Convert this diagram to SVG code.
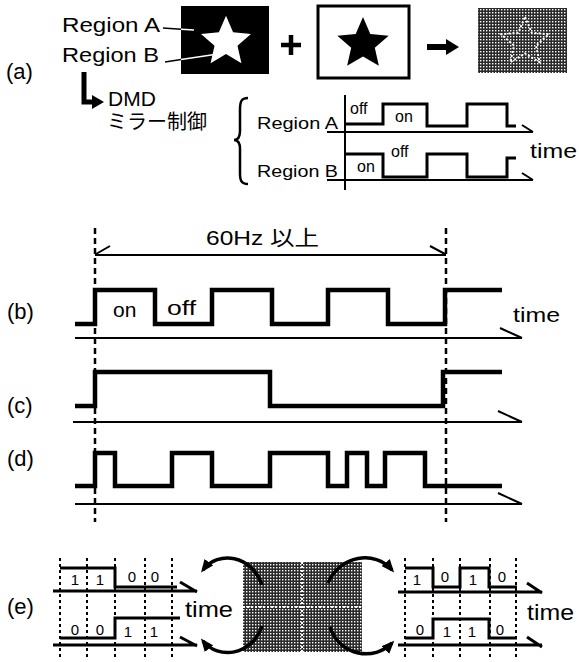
<svg xmlns="http://www.w3.org/2000/svg" width="579" height="662" viewBox="0 0 579 662">
<style>
text{font-family:"Liberation Sans","Noto Sans CJK JP",sans-serif;fill:#000}
.lbl{font-size:22px}
.wave{fill:none;stroke:#000;stroke-width:4.5;stroke-linejoin:miter}
.wv2{fill:none;stroke:#000;stroke-width:3}
.ax{fill:none;stroke:#000;stroke-width:2}
.ax3{fill:none;stroke:#000;stroke-width:3}
.dash{fill:none;stroke:#000;stroke-width:2.5;stroke-dasharray:6 4}
.dot{fill:none;stroke:#000;stroke-width:2;stroke-dasharray:3 3}
.wdot{fill:none;stroke:#fff;stroke-width:2;stroke-dasharray:2 2}
.sm{font-size:16px}
.bit{font-size:15px}
.curve{fill:none;stroke:#000;stroke-width:3.5;marker-end:url(#ah)}
</style>
<defs>
<pattern id="ht" width="3" height="3" patternUnits="userSpaceOnUse">
<rect width="3" height="3" fill="#2a2a2a"/><rect width="1.4" height="1.4" fill="#fff"/>
</pattern>
<path id="star" d="M0,-25 L6.76,-9.3 L23.78,-7.73 L10.94,3.55 L14.69,20.23 L0,11.5 L-14.69,20.23 L-10.94,3.55 L-23.78,-7.73 L-6.76,-9.3 Z"/>
<marker id="ah" viewBox="0 0 12 10" refX="9" refY="5" markerWidth="13" markerHeight="11" markerUnits="userSpaceOnUse" orient="auto"><path d="M0,0 L12,5 L0,10 Z"/></marker>
</defs>
<rect width="579" height="662" fill="#fff"/>

<!-- (a) -->
<g id="label-a"><text class="lbl" x="6" y="79">(a)</text></g>
<g id="regionA-label"><text x="62" y="32" font-size="21" textLength="98" lengthAdjust="spacingAndGlyphs">Region A</text></g>
<g id="regionB-label"><text x="62" y="62" font-size="21" textLength="97" lengthAdjust="spacingAndGlyphs">Region B</text></g>
<g id="black-box">
<rect x="181" y="6" width="88" height="68" fill="#000"/>
<use href="#star" transform="translate(226,42) scale(1.05)" fill="#fff"/>
</g>
<g id="plus"><path d="M281,45 H301 M291,35 V55" stroke="#000" stroke-width="4.5" fill="none"/></g>
<g id="white-box">
<rect x="318" y="6" width="91" height="72" fill="#fff" stroke="#000" stroke-width="3"/>
<use href="#star" transform="translate(363,44) scale(1.08)" fill="#000"/>
</g>
<g id="gray-box-a">
<rect x="478" y="8" width="89" height="65" fill="url(#ht)"/>
<path d="M0,-25 L6.76,-9.3 L23.78,-7.73 L10.94,3.55 L14.69,20.23 L0,11.5 L-14.69,20.23 L-10.94,3.55 L-23.78,-7.73 L-6.76,-9.3 Z" transform="translate(525,42)" class="wdot"/>
</g>
<g id="dmd-label">
<text x="108" y="106" font-size="21">DMD</text>
<text x="107" y="129" font-size="20">ミラー制御</text>
</g>
<g id="brace"><path d="M248,98 C241,98 240,102 240,110 L240,131 C240,137 238,140 234,140 C238,140 240,143 240,149 L240,173 C240,180 241,184 248,184" fill="none" stroke="#000" stroke-width="2.5"/></g>
<g id="timing-a">
<text x="257" y="129" font-size="17" textLength="81" lengthAdjust="spacingAndGlyphs">Region A</text>
<text x="257" y="177" font-size="17" textLength="81" lengthAdjust="spacingAndGlyphs">Region B</text>
<path class="ax" d="M345,95 V190"/>
<path class="ax" d="M327,132 H533 M522,125 L533,132"/>
<path class="ax" d="M327,180 H533 M522,173 L533,180"/>
<path class="wv2" d="M345,124 H383 V104 H427 V126 H467 V104 H507 V126 H516"/>
<path class="wv2" d="M345,154 H383 V177 H427 V154 H467 V177 H507 V158 H516"/>
<text class="sm" x="350" y="114">off</text>
<text class="sm" x="395" y="122">on</text>
<text class="sm" x="357" y="172">on</text>
<text class="sm" x="391" y="157">off</text>
<text x="530" y="158" font-size="21" textLength="47" lengthAdjust="spacingAndGlyphs">time</text>
</g>

<!-- (b)(c)(d) -->
<g id="guides">
<path class="dash" d="M95,228 V522"/>
<path class="dash" d="M446,228 V522"/>
<path class="ax" d="M95,255 H446 M96,254 L110,246 M445,254 L430,246"/>
<text x="206" y="245" font-size="21" textLength="113" lengthAdjust="spacingAndGlyphs">60Hz 以上</text>
</g>
<g id="wave-b">
<text class="lbl" x="7" y="319">(b)</text>
<path class="wave" d="M75,324 H95 V290 H155 V324 H212 V290 H272 V324 H328 V290 H388 V324 H445 V290 H502"/>
<path class="ax" d="M75,338 H522 M500,328 L522,338"/>
<text x="113" y="317" font-size="21">on</text>
<text x="167" y="315" font-size="21" textLength="29" lengthAdjust="spacingAndGlyphs">off</text>
<text x="513" y="322" font-size="21" textLength="47" lengthAdjust="spacingAndGlyphs">time</text>
</g>
<g id="wave-c">
<text class="lbl" x="7" y="413">(c)</text>
<path class="wave" d="M75,406 H95 V372 H270 V406 H443 V372 H502"/>
<path class="ax" d="M73,422 H522 M498,411 L522,422"/>
</g>
<g id="wave-d">
<text class="lbl" x="7" y="466">(d)</text>
<path class="wave" d="M75,486 H95 V453 H115 V486 H172 V453 H212 V486 H270 V453 H328 V486 H347 V453 H367 V486 H385 V453 H425 V486 H502"/>
<path class="ax" d="M75,504 H522 M498,493 L522,504"/>
</g>

<!-- (e) -->
<g id="label-e"><text class="lbl" x="7" y="614">(e)</text></g>
<g id="timing-e-left">
<path class="dot" d="M60,558 V658 M87,558 V658 M115,558 V658 M145,558 V658 M172,558 V658"/>
<path class="wv2" d="M60,568 H115 V587 H177"/>
<path class="ax3" d="M53,591 H197 M180,582 L197,592"/>
<path class="wv2" d="M60,638 H115 V618 H180"/>
<path class="ax3" d="M53,645 H197 M180,637 L197,646"/>
<g class="bit" text-anchor="middle">
<text x="75" y="585">1</text><text x="100" y="585">1</text><text x="132" y="582">0</text><text x="155" y="582">0</text>
<text x="75" y="635">0</text><text x="100" y="635">0</text><text x="128" y="637">1</text><text x="154" y="637">1</text>
</g>
<text x="185" y="617" font-size="22" textLength="48" lengthAdjust="spacingAndGlyphs">time</text>
</g>
<g id="gray-box-e">
<rect x="243" y="562" width="119" height="90" fill="url(#ht)"/>
<path class="wdot" d="M302,562 V652 M243,607 H362"/>
</g>
<g id="timing-e-right">
<path class="dot" d="M405,558 V658 M433,558 V658 M460,558 V658 M490,558 V658 M516,558 V658"/>
<path class="wv2" d="M405,568 H433 V587 H460 V568 H489 V587 H517"/>
<path class="ax3" d="M398,592 H542 M527,583 L542,593"/>
<path class="wv2" d="M405,638 H433 V619 H489 V638 H517"/>
<path class="ax3" d="M398,645 H542 M527,637 L542,647"/>
<g class="bit" text-anchor="middle">
<text x="417" y="585">1</text><text x="445" y="582">0</text><text x="473" y="585">1</text><text x="502" y="582">0</text>
<text x="420" y="635">0</text><text x="447" y="637">1</text><text x="472" y="637">1</text><text x="500" y="635">0</text>
</g>
<text x="527" y="620" font-size="22" textLength="47" lengthAdjust="spacingAndGlyphs">time</text>
</g>

<g id="connectors">
<path d="M163,28 L181,29.2" stroke="#000" stroke-width="1.5"/>
<path d="M181,29.2 L194,30" stroke="#fff" stroke-width="1.5"/>
<path d="M165,62 L181,59.6" stroke="#000" stroke-width="1.5"/>
<path d="M181,59.6 L218,54" stroke="#fff" stroke-width="1.5"/>
<path d="M427,47 H448" stroke="#000" stroke-width="6"/>
<path d="M446,39 L459,47 L446,55 Z" fill="#000"/>
<path d="M84,72 V102 H94" fill="none" stroke="#000" stroke-width="5"/>
<path d="M92,95 L104,102 L92,109 Z" fill="#000"/>
<path class="curve" d="M262,585 C252,555 218,550 203,570"/>
<path class="curve" d="M262,626 C252,656 218,660 203,641"/>
<path class="curve" d="M328,583 C340,555 375,550 392,570"/>
<path class="curve" d="M330,627 C340,657 375,661 392,643"/>
</g>
</svg>
